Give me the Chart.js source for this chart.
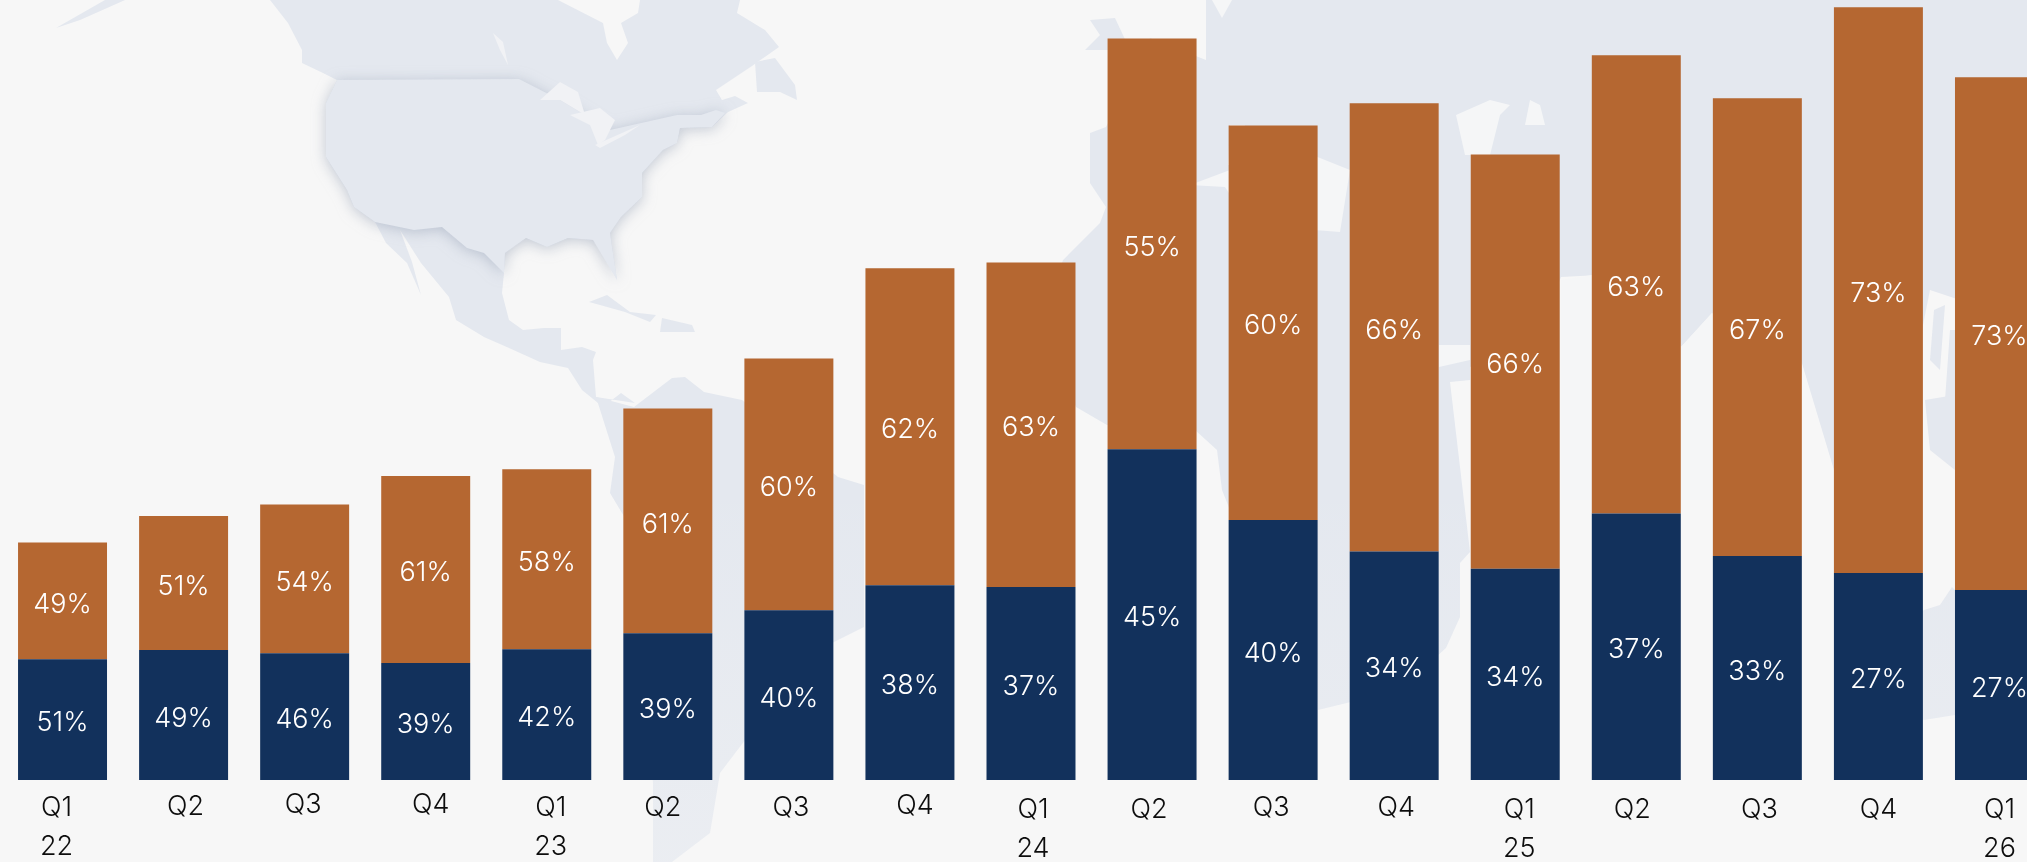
<!DOCTYPE html>
<html>
<head>
<meta charset="utf-8">
<script src="https://cdn.jsdelivr.net/npm/chart.js@4"></script>
<style>
html,body{margin:0;padding:0;background:#f7f7f7;overflow:hidden}
#stage{position:relative;width:2027px;height:862px;overflow:hidden;background:#f7f7f7}
#map{position:absolute;left:0;top:0;width:2027px;height:862px}
#wrap{position:absolute;left:2px;top:0;width:2058px;height:862px}
</style>
</head>
<body>
<div id="stage">
<svg id="map" viewBox="0 0 2027 862">
  <defs>
    <linearGradient id="wash" x1="0" y1="0" x2="0" y2="1">
      <stop offset="0" stop-color="#f7f7f7" stop-opacity="0"/>
      <stop offset="1" stop-color="#f7f7f7" stop-opacity=".35"/>
    </linearGradient>
  </defs>
  <g fill="#e4e8ef">
    <polygon points="56,28 70,20 105,0 125,0 80,20"/>
    <polygon points="270,0 288,23 302,50 302,63 323,73 337,80 326,103 326,157 347,190 354,207 375,222 386,243 407,263 421,295 412,262 400,230 421,263 449,297 456,320 484,337 509,348 540,362 568,368 582,390 603,407 621,393 635,403 596,397 593,360 596,352 582,347 561,350 561,328 544,328 523,330 509,320 502,293 504,273 505,253 526,238 547,247 568,238 593,240 610,263 617,280 610,233 621,217 642,197 642,173 663,150 677,143 680,128 712,127 728,112 748,103 735,96 722,100 716,90 752,66 779,47 765,30 737,13 740,0 640,0 638,13 621,23 628,43 617,60 607,43 603,23 558,0"/>
    <polygon points="755,62 775,58 795,85 797,100 780,92 757,92"/>
    <polygon points="589,302 607,295 630,312 656,315 650,322 625,312 600,305"/>
    <polygon points="662,318 692,325 695,332 660,332"/>
    <polygon points="596,397 634,407 672,378 685,377 704,392 742,400 838,477 864,485 864,627 832,643 755,727 720,773 710,833 672,862 653,862 653,783 628,523 610,493 615,457"/>
    <polygon points="1090,20 1115,18 1130,50 1085,50 1100,35"/>
    <polygon points="1150,38 1206,60 1206,0 2027,0 2027,330 1990,330 1960,300 1930,290 1922,330 1890,360 1870,380 1834,470 1801,360 1760,340 1712,313 1681,347 1660,300 1600,275 1561,277 1540,330 1470,367 1470,380 1450,382 1470,552 1460,563 1460,617 1446,648 1400,690 1318,710 1316,583 1250,560 1222,490 1217,450 1195,430 1107,425 1076,407 1040,330 1063,260 1100,223 1106,207 1090,183 1090,133 1106,127"/>
    <polygon points="1952,587 1940,605 1924,610 1905,625 1890,700 1924,720 1955,715 1955,590"/>
    <polygon points="1934,310 1945,305 1940,370 1930,360"/>
    <polygon points="1950,330 1955,330 1955,410 1945,400"/>
    <polygon points="1925,400 1955,395 1955,470 1930,450"/>
  </g>
  <g fill="#f5f6f7">
    <polygon points="1212,0 1232,0 1222,18"/>
    <polygon points="1190,185 1225,187 1250,225 1340,232 1350,170 1300,150 1230,170"/>
    <polygon points="1230,125 1245,125 1240,165 1228,165"/>
    <polygon points="1456,115 1490,100 1510,105 1500,115 1490,155 1465,155"/>
    <polygon points="1530,100 1540,105 1545,125 1525,125"/>
    <polygon points="1439,367 1470,360 1470,345 1439,345"/>
    <polygon points="1561,280 1592,275 1592,500 1561,500"/>
    <polygon points="1681,347 1712,313 1712,500 1681,500"/>
  </g>
  <polygon fill="#e4e8ef" style="filter:drop-shadow(0 2px 7px rgba(150,160,180,.55))" points="337,80 519,79 560,100 610,130 677,115 701,115 716,110 725,113 712,127 680,128 677,143 663,150 642,173 642,197 621,217 610,233 617,280 593,240 568,238 547,247 526,238 505,253 504,273 484,253 467,248 442,227 414,230 375,222 354,207 347,190 326,157 326,103"/>
  <g fill="#f1f2f5">
    <polygon points="540,100 560,82 578,92 585,115 560,100"/>
    <polygon points="570,115 600,108 615,120 605,140 598,145 590,125"/>
    <polygon points="595,145 640,125 625,135 600,148"/>
    <polygon points="493,33 503,42 508,65 500,50"/>
  </g>
  <rect x="0" y="480" width="2027" height="382" fill="url(#wash)"/>
</svg>
<div id="wrap"><canvas id="c" width="2058" height="862"></canvas></div>
</div>
<script>
const quarters = [['Q1','22'],['Q2'],['Q3'],['Q4'],['Q1','23'],['Q2'],['Q3'],['Q4'],['Q1','24'],['Q2'],['Q3'],['Q4'],['Q1','25'],['Q2'],['Q3'],['Q4'],['Q1','26']];
const blueValues = [120.7,130,126.7,117,130.7,146.7,169.7,194.7,193,330.7,260,228.4,211.2,266.5,224,207,190];
const orangeValues = [116.7,134,148.7,187,180,224.8,251.7,317,324.4,410.7,394.4,448.3,414.2,458.2,457.7,565.7,512.7];
const bluePct = [51,49,46,39,42,39,40,38,37,45,40,34,34,37,33,27,27];
const orangePct = [49,51,54,61,58,61,60,62,63,55,60,66,66,63,67,73,73];
const tickNudgeX = [-6,2,-1.5,5,4,-5,2,5,2,-3,-2,2,4,-4,2,0,0];
const tickNudgeY = [0,-1,-3,-3,0,0,0,-2,2,2,0,0,2,2,2,2,2];

const FONT = '"Inter","Noto Sans",sans-serif';

const segmentLabels = {
  id:'segmentLabels',
  afterDatasetsDraw(chart){
    const ctx = chart.ctx;
    ctx.save();
    ctx.font = '300 27px ' + FONT;
    ctx.fillStyle = '#ffffff';
    ctx.textAlign = 'center';
    ctx.textBaseline = 'middle';
    chart.data.datasets.forEach((ds,d)=>{
      chart.getDatasetMeta(d).data.forEach((bar,i)=>{
        const p = bar.getProps(['x','y','base'],true);
        ctx.fillText(ds.pct[i]+'%', p.x, (p.y+p.base)/2+3.5);
      });
    });
    ctx.restore();
  }
};
const tickJitter = {
  id:'tickJitter',
  beforeDraw(chart){
    const s = chart.scales.x;
    if(s.__nudged) return;
    s.getLabelItems(chart.chartArea).forEach((it,i)=>{
      it.options.translation = [it.options.translation[0]+tickNudgeX[i], it.options.translation[1]+tickNudgeY[i]];
    });
    s.__nudged = true;
  }
};

new Chart(document.getElementById('c'),{
  type:'bar',
  data:{
    labels:quarters,
    datasets:[
      {label:'Blue',data:blueValues,pct:bluePct,backgroundColor:'#12315c',borderWidth:0,barPercentage:0.735,categoryPercentage:1,stack:'s'},
      {label:'Orange',data:orangeValues,pct:orangePct,backgroundColor:'#b56731',borderWidth:0,barPercentage:0.735,categoryPercentage:1,stack:'s'}
    ]
  },
  options:{
    responsive:false,
    animation:false,
    devicePixelRatio:1,
    layout:{padding:0},
    plugins:{legend:{display:false},tooltip:{enabled:false},title:{display:false}},
    scales:{
      x:{
        stacked:true,
        afterFit(s){ s.height = 82; },
        grid:{display:false,drawTicks:false},
        border:{display:false},
        ticks:{autoSkip:false,maxRotation:0,minRotation:0,padding:8,color:'#0d0d0d',font:{family:FONT,size:27,weight:'300',lineHeight:1.45}}
      },
      y:{stacked:true,display:false,min:0,max:780}
    }
  },
  plugins:[segmentLabels,tickJitter]
});
</script>
</body>
</html>
